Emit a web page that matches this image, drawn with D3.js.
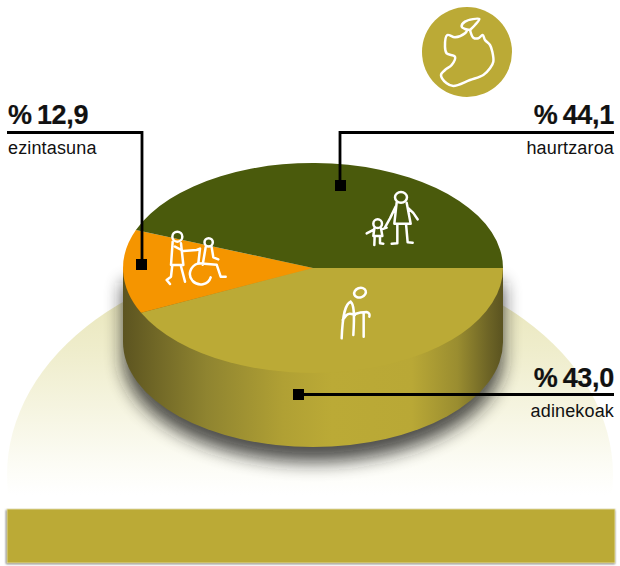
<!DOCTYPE html>
<html>
<head>
<meta charset="utf-8">
<script src="https://cdn.jsdelivr.net/npm/d3@7/dist/d3.min.js"></script>
<style>
html,body{margin:0;padding:0;background:#fff}
svg{display:block}
text{font-family:"Liberation Sans",Arial,sans-serif;fill:#111}
</style>
</head>
<body>
<svg id="chart" width="620" height="566"></svg>
<script>
// Shares of dependent population, clockwise from the right-hand edge of the disc
const categories = ["adinekoak", "ezintasuna", "haurtzaroa"];
const shares = [43.0, 12.9, 44.1];
const shareLabels = ["% 43,0", "% 12,9", "% 44,1"];
const sliceColors = ["#bbaa36", "#f59500", "#4a5a0c"];

const W = 620, H = 566;
const cx = 313, cy = 268, rx = 190, ry = 105, depth = 74;

const svg = d3.select("#chart");
const defs = svg.append("defs");

// Pale halo behind the disc, fading into the page above the band
const halo = defs.append("linearGradient").attr("id", "halo")
  .attr("gradientUnits", "userSpaceOnUse")
  .attr("x1", 0).attr("x2", 0).attr("y1", 290).attr("y2", 495);
[[0, "#e9e6bb"], [0.3, "#efedcc"], [0.6, "#f6f5e2"], [0.85, "#fcfcf5"], [1, "#ffffff"]].forEach(([o, c]) =>
  halo.append("stop").attr("offset", o).attr("stop-color", c));

// Cylinder wall shading, dark toward both edges
const wall = defs.append("linearGradient").attr("id", "wall")
  .attr("x1", 0).attr("x2", 1).attr("y1", 0).attr("y2", 0);
[[0, "#5c5420"], [0.08, "#6f6626"], [0.22, "#8f8430"], [0.42, "#b0a034"], [0.55, "#bbaa36"],
 [0.76, "#b9a836"], [0.88, "#9a8d30"], [0.96, "#6e6526"], [1, "#5a5320"]].forEach(([o, c]) =>
  wall.append("stop").attr("offset", o).attr("stop-color", c));

defs.append("filter").attr("id", "shadowBlur")
  .attr("x", "-20%").attr("y", "-20%").attr("width", "140%").attr("height", "140%")
  .append("feGaussianBlur").attr("stdDeviation", 9);
defs.append("filter").attr("id", "bandBlur")
  .attr("x", "-5%").attr("y", "-20%").attr("width", "110%").attr("height", "140%")
  .append("feGaussianBlur").attr("stdDeviation", 1.2);

svg.append("ellipse")
  .attr("cx", 310).attr("cy", 475).attr("rx", 303).attr("ry", 220)
  .attr("fill", "url(#halo)");
svg.append("rect").attr("x", 0).attr("y", 495).attr("width", W).attr("height", H - 495).attr("fill", "#fff");

// Bottom band with a soft edge
svg.append("rect").attr("x", 6).attr("y", 510).attr("width", 609).attr("height", 54)
  .attr("fill", "#666").attr("filter", "url(#bandBlur)");
svg.append("rect").attr("x", 7).attr("y", 509).attr("width", 608).attr("height", 54)
  .attr("fill", "#bbaa36").attr("stroke", "#e8e3b8").attr("stroke-width", 0.8);

// Outline of the cylinder: lower half of the rim extruded downward
const cylinderPath = `M${cx - rx},${cy}V${cy + depth}A${rx},${ry} 0 0 0 ${cx + rx},${cy + depth}V${cy}Z`;

svg.append("path").attr("d", cylinderPath)
  .attr("transform", "translate(0,15)")
  .attr("fill", "#1c1c1c").attr("opacity", 0.78).attr("filter", "url(#shadowBlur)");
svg.append("path").attr("d", cylinderPath).attr("fill", "url(#wall)");

// Top face: a d3 pie flattened into an ellipse
const pie = d3.pie().sort(null).value(d => d)
  .startAngle(Math.PI / 2).endAngle(Math.PI / 2 + 2 * Math.PI);
const arc = d3.arc().innerRadius(0).outerRadius(rx);

svg.append("g")
  .attr("transform", `translate(${cx},${cy}) scale(1,${ry / rx})`)
  .selectAll("path")
  .data(pie(shares))
  .join("path")
  .attr("d", arc)
  .attr("fill", (d, i) => sliceColors[i]);

// Hand-drawn white pictograms, sketched on a 3x grid
function pictogram(ox, oy) {
  return svg.append("g")
    .attr("transform", `translate(${ox},${oy}) scale(${1 / 3})`)
    .attr("fill", "none").attr("stroke", "#fff").attr("stroke-width", 7.5)
    .attr("stroke-linecap", "round").attr("stroke-linejoin", "round");
}

// Adult with child
const family = pictogram(340, 180);
family.append("ellipse").attr("cx", 183).attr("cy", 52).attr("rx", 18).attr("ry", 16);
family.append("path").attr("d", "M170,68L163,131L212,131L200,68M167,80L150,115L135,142M205,85C218,95 226,105 233,118M172,131L172,190L155,191M198,131L203,187L218,188");
family.append("circle").attr("cx", 113).attr("cy", 131).attr("r", 13);
family.append("path").attr("d", "M103,145L100,168L127,168L123,145M103,148L80,160M125,148L140,143M104,168L103,195M120,168L120,190L130,191");

// Elder with a cane
const elder = pictogram(340, 180);
elder.append("ellipse").attr("cx", 60).attr("cy", 338).attr("rx", 18).attr("ry", 14).attr("transform", "rotate(-20 60 338)");
elder.append("path").attr("d", "M32,365C16,372 8,400 5,475M32,365C42,372 44,400 40,465M8,420L20,405C30,395 40,405 45,405M45,402C60,396 72,396 80,396C88,398 90,404 88,410M71,398L71,470");

// Carer pushing a wheelchair
const chair = pictogram(110, 170);
chair.append("circle").attr("cx", 202).attr("cy", 200).attr("r", 15);
chair.append("path").attr("d", "M188,215L183,285L220,285L213,220M195,230L220,243L260,240L270,236M187,285L183,320L170,330L180,342M212,285L225,335M270,236L265,280");
chair.append("circle").attr("cx", 296).attr("cy", 217).attr("r", 12.5);
chair.append("path").attr("d", "M287,232L278,284M305,232L310,262L325,268M265,280L320,284L332,320L347,320M265,280C240,288 232,315 248,333C265,350 295,345 302,322");

// Map roundel
svg.append("circle").attr("cx", 467).attr("cy", 52).attr("r", 45).attr("fill", "#bbaa36");
const mapLine = d3.line().curve(d3.curveCatmullRom.alpha(0.5));
const mapOutline = [[172,74],[165,85],[135,97],[112,90],[105,125],[110,145],[135,155],[125,180],[105,195],[93,210],[110,235],[130,243],[180,225],[220,210],[240,190],[250,170],[247,140],[240,120],[225,105],[218,90],[205,100],[190,98],[180,75]];
const mapLeaf = [[180,75],[165,72],[155,65],[165,50],[208,42],[195,60],[180,75]];
const mapGroup = svg.append("g").attr("transform", "translate(410,5) scale(0.3333)")
  .attr("fill", "none").attr("stroke", "#fff").attr("stroke-width", 7.5).attr("stroke-linejoin", "round");
mapGroup.append("path").attr("d", mapLine(mapOutline));
mapGroup.append("path").attr("d", mapLine(mapLeaf));

// Callout leaders: each runs from its slice to the heading rule
const leaders = svg.append("g").attr("fill", "none").attr("stroke", "#000").attr("stroke-width", 2.8);
leaders.append("path").attr("d", "M7,132.500H142V264");
leaders.append("path").attr("d", "M614,132.500H340V185");
leaders.append("path").attr("d", "M298,394.500H614");
const markers = svg.append("g").attr("fill", "#000");
[[141.5, 264.5], [340.5, 185.5], [298.5, 394.5]].forEach(([x, y]) =>
  markers.append("rect").attr("x", x - 5.5).attr("y", y - 5.5).attr("width", 11).attr("height", 11));

// Callout text, ordered like the data arrays
const labelPos = [
  { x: 614, a: "end", y1: 387, y2: 417 },
  { x: 8, a: "start", y1: 124, y2: 154 },
  { x: 614, a: "end", y1: 124, y2: 154 }
];
categories.forEach((name, i) => {
  const p = labelPos[i];
  svg.append("text").attr("x", p.x).attr("y", p.y1).attr("text-anchor", p.a)
    .attr("font-size", 27).attr("font-weight", 700).attr("stroke", "#111").attr("stroke-width", 0.2)
    .attr("word-spacing", -2).attr("letter-spacing", -0.3).text(shareLabels[i]);
  svg.append("text").attr("x", p.x).attr("y", p.y2).attr("text-anchor", p.a)
    .attr("font-size", 18).attr("letter-spacing", 0.15).text(name);
});
</script>
</body>
</html>
